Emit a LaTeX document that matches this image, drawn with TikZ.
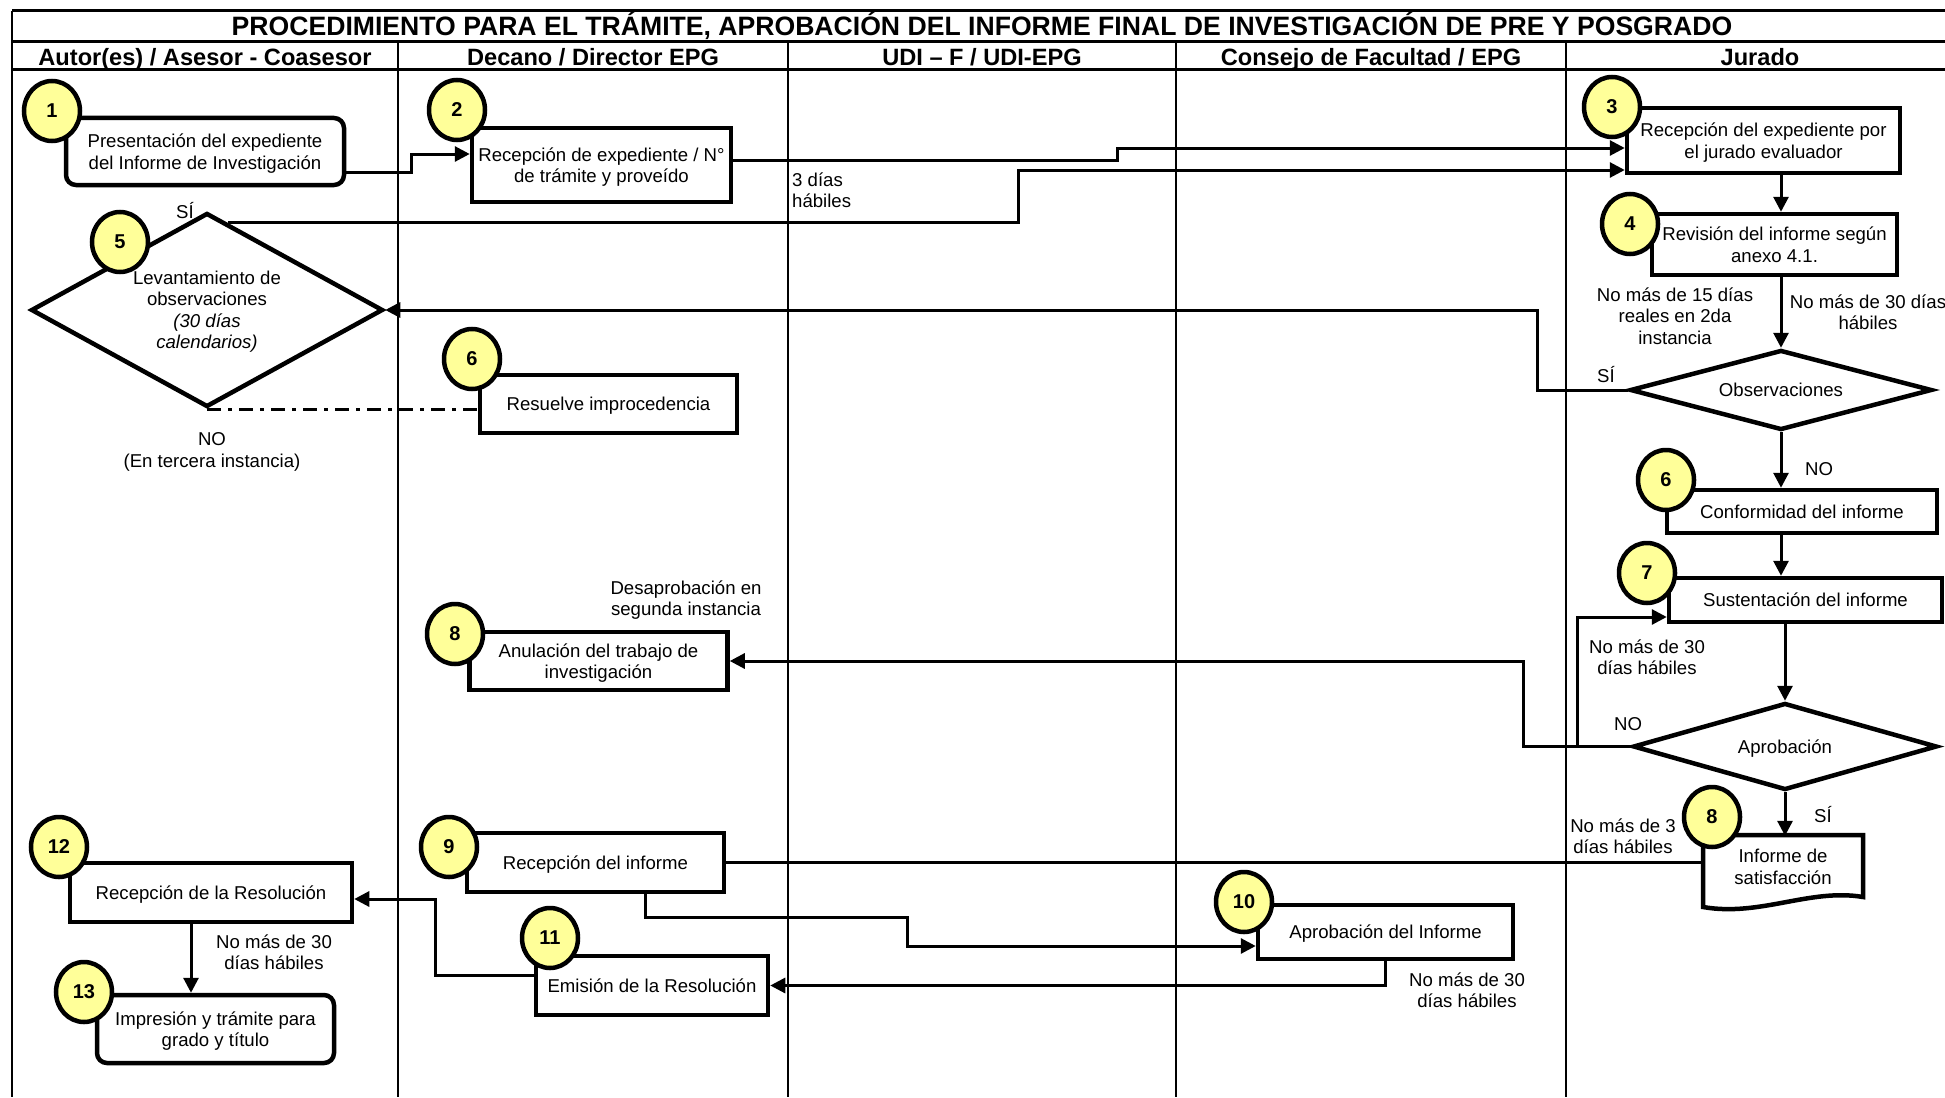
\documentclass[tikz,border=0pt]{standalone}
\usepackage{fontspec}
\setmainfont{Liberation Sans}
\usetikzlibrary{shapes.geometric,arrows.meta,calc}
\definecolor{circ}{RGB}{255,255,153}
\newcommand{\bodyfs}{\fontsize{18.6}{21.5}\selectfont}
\begin{document}
\begin{tikzpicture}[x=1pt,y=-1pt,
  box/.style={draw, line width=4.5pt, fill=white, align=center, inner sep=1pt, font=\bodyfs, text depth=-2pt},
  num/.style={ellipse, draw, line width=4.5pt, fill=circ, minimum width=56pt, minimum height=60pt, inner sep=0pt, font=\bfseries\fontsize{20}{22}\selectfont},
  dia/.style={diamond, draw, line width=4.5pt, fill=white, inner sep=0pt, align=center, font=\bodyfs, text depth=-2pt},
  conn/.style={line width=3pt, -{Triangle[length=15pt,width=15pt]}},
  plain/.style={line width=3pt},
  dashdot/.style={line width=3pt, dash pattern=on 14pt off 7pt on 4pt off 7pt},
  lbl/.style={align=center, font=\bodyfs, inner sep=0pt},
  ttl/.style={font=\bfseries\fontsize{26.6}{28}\selectfont, inner sep=0pt, anchor=base},
  head/.style={font=\bfseries\fontsize{23.6}{26}\selectfont, inner sep=0pt, anchor=base},
  frame/.style={line width=3pt},
  lane/.style={line width=2pt}]
\useasboundingbox (0,0) rectangle (1945,1097);
\fill[white] (0,0) rectangle (1945,1097);

% frame and lanes
\draw[frame] (12,11) -- (1945,11);
\draw[frame] (12,42) -- (1945,42);
\draw[frame] (12,70) -- (1945,70);
\draw[lane] (12,11) -- (12,1097);
\foreach \xx in {398,788,1176,1566} \draw[lane] (\xx,42) -- (\xx,1097);

\node[ttl] (title) at (982,36) {PROCEDIMIENTO PARA EL TRÁMITE, APROBACIÓN DEL INFORME FINAL DE INVESTIGACIÓN DE PRE Y POSGRADO};
\node[head] (h1) at (205,66) {Autor(es) / Asesor - Coasesor};
\node[head] (h2) at (593,66) {Decano / Director EPG};
\node[head] (h3) at (982,66) {UDI – F / UDI-EPG};
\node[head] (h4) at (1371,66) {Consejo de Facultad / EPG};
\node[head] (h5) at (1760,66) {Jurado};

% boxes
\node[box, text depth=-8pt, rounded corners=10pt, minimum width=278pt, minimum height=67pt] (b1) at (205,151.5) {Presentación del expediente\\del Informe de Investigación};
\node[box, text depth=-5pt, minimum width=259pt, minimum height=74pt] (b2) at (601.5,165) {Recepción de expediente / N°\\de trámite y proveído};
\node[box, text depth=-8pt, minimum width=273pt, minimum height=65pt] (b3) at (1763.5,140.5) {Recepción del expediente por\\el jurado evaluador};
\node[box, minimum width=245pt, minimum height=61pt] (b4) at (1774.5,244.5) {Revisión del informe según\\anexo 4.1.};
\node[dia, text depth=-7pt, minimum width=352pt, minimum height=194pt, aspect=1.8] (d5) at (207,310) {Levantamiento de\\observaciones\\\textit{(30 días}\\\textit{calendarios)}};
\node[box, minimum width=257pt, minimum height=58pt] (b6a) at (608.5,404) {Resuelve improcedencia};
\node[dia, minimum width=302pt, minimum height=80pt, aspect=3.8] (obs) at (1781,390) {Observaciones};
\node[box, minimum width=270pt, minimum height=43pt] (b6b) at (1802,511.5) {Conformidad del informe};
\node[box, minimum width=273pt, minimum height=44pt] (b7) at (1805.5,600) {Sustentación del informe};
\node[dia, minimum width=304pt, minimum height=87pt, aspect=3.5] (ap) at (1785,746.5) {Aprobación};
\node[box, minimum width=258pt, minimum height=58pt] (b8a) at (598.5,661) {Anulación del trabajo de\\investigación};
\draw[line width=4.5pt, fill=white] (1703,835) -- (1863,835) -- (1863,897) .. controls (1810,888) and (1760,917) .. (1703,907) -- cycle;
\node[lbl, minimum width=160pt, minimum height=62pt] (doc) at (1783,867) {Informe de\\satisfacción};
\node[box, minimum width=257pt, minimum height=59pt] (b9) at (595.5,862.5) {Recepción del informe};
\node[box, minimum width=255pt, minimum height=54pt] (b10) at (1385.5,932) {Aprobación del Informe};
\node[box, minimum width=232pt, minimum height=59pt] (b11) at (652,985.5) {Emisión de la Resolución};
\node[box, minimum width=282pt, minimum height=59pt] (b12) at (211,892.5) {Recepción de la Resolución};
\node[box, rounded corners=10pt, minimum width=237pt, minimum height=68pt] (b13) at (215.5,1029) {Impresión y trámite para\\grado y título};

% connectors
\draw[conn] (b1.east |- 0,172) -- (411,172) |- (b2.west |- 0,154);
\draw[conn] (b2.east |- 0,160) -- (1117,160) |- (b3.west |- 0,148);
\coordinate (s5) at ($(d5.north)!0.12!(d5.east)$);
\draw[conn] (s5) -- (s5 -| 1018,0) |- (b3.west |- 0,170);
\draw[conn] (b3.south -| 1781,0) -- (b4.north -| 1781,0);
\draw[conn] (b4.south -| obs.north) -- (obs.north);
\draw[conn] (obs.west) -- (obs.west -| 1537,0) |- (d5.east);
\draw[conn] (obs.south) -- (obs.south |- b6b.north);
\draw[conn] (b6b.south -| obs.south) -- (b7.north -| obs.south);
\draw[conn] (b7.south -| ap.north) -- (ap.north);
\draw[conn] (ap.west) -- (ap.west -| 1577,0) |- (b7.west |- 0,617);
\draw[conn] (ap.west) -- (ap.west -| 1523,0) |- (b8a.east);
\draw[conn] (ap.south) -- (ap.south |- doc.north);
\draw[plain] (b9.east) -- (doc.west |- b9.east);
\draw[conn] (b9.south -| 645,0) -- (645,917) -| (907,946) -- (b10.west |- 0,946);
\draw[conn] (b10.south) |- (b11.east);
\draw[conn] (b11.west |- 0,975) -- (435,975) |- (b12.east |- 0,899);
\draw[conn] (b12.south -| 191,0) -- (b13.north -| 191,0);
\draw[dashdot] (d5.south) -- (b6a.west |- d5.south);

% circles
\node[num] (n1) at (52,111) {1};
\node[num] (n2) at (457,110) {2};
\node[num] (n3) at (1612,107) {3};
\node[num] (n4) at (1630,224) {4};
\node[num] (n5) at (120,242) {5};
\node[num] (n6a) at (472,359) {6};
\node[num] (n6b) at (1666,480) {6};
\node[num] (n7) at (1647,573) {7};
\node[num] (n8a) at (455,634) {8};
\node[num] (n8b) at (1712,817) {8};
\node[num] (n9) at (449,847) {9};
\node[num] (n10) at (1244,902) {10};
\node[num] (n11) at (550,938) {11};
\node[num] (n12) at (59,847) {12};
\node[num] (n13) at (84,992) {13};

% labels
\node[lbl, anchor=west, align=left] (l3d) at (792,190) {3 días\\hábiles};
\node[lbl] (lsi5) at (185,211) {SÍ};
\node[lbl] (lno5) at (212,452) {NO\\(En tercera instancia)};
\node[lbl] (l15) at (1675,316) {No más de 15 días\\reales en 2da\\instancia};
\node[lbl] (l30a) at (1868,312) {No más de 30 días\\hábiles};
\node[lbl] (lsiobs) at (1606,375) {SÍ};
\node[lbl] (lnoobs) at (1819,469) {NO};
\node[lbl] (l30b) at (1647,657) {No más de 30\\días hábiles};
\node[lbl] (lnoap) at (1628,724) {NO};
\node[lbl] (lsiap) at (1823,815) {SÍ};
\node[lbl] (l3b) at (1623,836) {No más de 3\\días hábiles};
\node[lbl] (ldes) at (686,600) {Desaprobación en\\segunda instancia};
\node[lbl] (l30c) at (274,952) {No más de 30\\días hábiles};
\node[lbl] (l30d) at (1467,990) {No más de 30\\días hábiles};
\end{tikzpicture}
\end{document}
